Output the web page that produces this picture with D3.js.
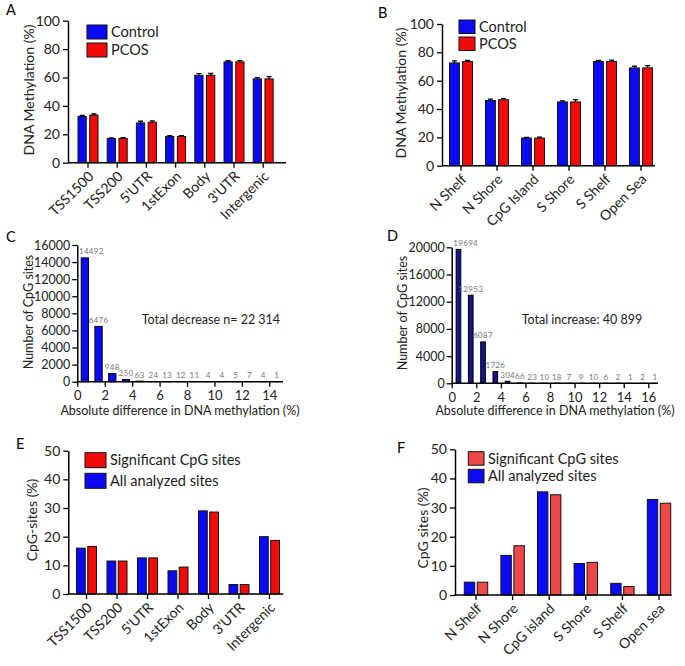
<!DOCTYPE html>
<html><head><meta charset="utf-8">
<script src="https://cdn.jsdelivr.net/npm/d3@7"></script>
<style>
body{margin:0;background:#fff;}
svg{display:block;font-family:Lato,"Open Sans",sans-serif;}
</style></head>
<body>
<svg id="chart" width="685" height="666"></svg>
<script>
// ---------- DATA ----------
const regionCats = ["TSS1500","TSS200","5'UTR","1stExon","Body","3'UTR","Intergenic"];
const regionControl = [32.5, 17, 28, 18.5, 61.5, 71, 59];
const regionPCOS = [33.5, 17, 28.5, 18.5, 61.5, 71, 59];
const regionControlErr = [0.8, 0.5, 1.2, 0.6, 1.2, 0.8, 0.9];
const regionPCOSErr = [0.8, 0.6, 0.9, 0.6, 1.3, 0.9, 1.6];

const islandCats = ["N Shelf","N Shore","CpG Island","S Shore","S Shelf","Open Sea"];
const islandControl = [72.5, 46, 19.5, 45, 73.5, 69];
const islandPCOS = [73.5, 46.5, 19.5, 45, 73.5, 69];
const islandControlErr = [1.5, 1.0, 0.5, 0.8, 0.8, 1.2];
const islandPCOSErr = [0.8, 0.8, 0.6, 1.6, 1.0, 1.6];

const decreaseCounts = [14492, 6476, 948, 250, 63, 24, 13, 12, 11, 4, 4, 5, 7, 4, 1];
const increaseCounts = [19694, 12953, 6087, 1726, 304, 66, 23, 10, 18, 7, 9, 10, 6, 2, 1, 2, 1];
const decreaseTicks = [0,2,4,6,8,10,12,14];
const increaseTicks = [0,2,4,6,8,10,12,14,16];

const regionAll = [16, 11.5, 12.6, 8.1, 29, 3.3, 20];
const regionSig = [16.6, 11.5, 12.6, 9.4, 28.6, 3.3, 18.7];

const islandCatsF = ["N Shelf","N Shore","CpG island","S Shore","S Shelf","Open sea"];
const islandAll = [4.4, 13.6, 35.4, 10.8, 4.0, 32.8];
const islandSig = [4.4, 16.9, 34.4, 11.2, 2.9, 31.5];

// ---------- HELPERS ----------
const svg = d3.select("#chart");
const BLUE = "#0a0af5", RED = "#f50a0a", RED2 = "#f04848", NAVY = "#14148c";

function panelLetter(t, x, y){
  svg.append("text").attr("x",x).attr("y",y).attr("font-size",14.5).text(t);
}

function styleAxis(g){
  g.selectAll("path.domain").attr("stroke","#000").attr("stroke-width",1.5);
  g.selectAll(".tick line").attr("stroke","#000").attr("stroke-width",1.3);
  g.selectAll(".tick text").attr("fill","#222").attr("font-family","Lato, sans-serif");
}

function groupedPanel(o){
  const g = svg.append("g");
  const y = d3.scaleLinear().domain([0,o.ymax]).range([o.y0,o.y1]);
  const x0 = d3.scaleBand().domain(o.cats).range([o.xr0,o.xr1]).padding(0);
  const bw = x0.bandwidth();
  const x1 = d3.scaleBand().domain(d3.range(o.series.length)).range([0,o.groupW]).paddingInner(o.gap);
  o.series.forEach((s,j)=>{
    g.selectAll(null).data(s.values).enter().append("rect")
      .attr("x",(d,i)=>x0(o.cats[i]) + (bw-o.groupW)/2 + x1(j))
      .attr("width",x1.bandwidth())
      .attr("y",d=>y(d)).attr("height",d=>y(0)-y(d))
      .attr("fill",s.color).attr("stroke","#111").attr("stroke-width",1);
    if (s.err){
      g.selectAll(null).data(s.values).enter().append("path")
        .attr("d",(d,i)=>{
          const cx = x0(o.cats[i]) + (bw-o.groupW)/2 + x1(j) + x1.bandwidth()/2;
          const yt = y(d+s.err[i]);
          return `M${cx},${y(d)}V${yt}M${cx-2.5},${yt}H${cx+2.5}`;
        })
        .attr("stroke","#000").attr("stroke-width",1.3).attr("fill","none");
    }
  });
  const ya = g.append("g").attr("transform",`translate(${o.ax},0)`)
    .call(d3.axisLeft(y).tickValues(d3.range(0,o.ymax+1,o.ystep)).tickSize(5).tickSizeOuter(0).tickPadding(3));
  ya.selectAll("text").attr("font-size",o.tickFont||14);
  styleAxis(ya);
  const xa = g.append("g").attr("transform",`translate(0,${o.y0})`)
    .call(d3.axisBottom(x0).tickSize(5).tickSizeOuter(0));
  xa.select("path.domain").remove();
  xa.append("line").attr("x1",o.ax).attr("x2",o.axEnd).attr("y1",0).attr("y2",0)
    .attr("stroke","#000").attr("stroke-width",1.5);
  styleAxis(xa);
  xa.selectAll(".tick text").attr("font-size",o.xFont||14)
    .attr("text-anchor","end").attr("x",0).attr("y",0).attr("dy","0.35em")
    .attr("transform","translate(3,11) rotate(-45)");
  g.append("text").attr("transform",`translate(${o.tx},${o.ty}) rotate(-90)`)
    .attr("text-anchor","middle").attr("dy","0.35em").attr("font-size",o.titleFont||14)
    .attr("fill","#222").text(o.title);
  o.legend.forEach((l,k)=>{
    g.append("rect").attr("x",o.lx).attr("y",o.ly + k*o.lstep).attr("width",o.lw).attr("height",o.lh)
      .attr("fill",l.color).attr("stroke","#111").attr("stroke-width",1);
    g.append("text").attr("x",o.lx+o.lw+4).attr("y",o.ly + k*o.lstep + o.lh/2).attr("dy","0.35em")
      .attr("font-size",o.legFont||14.5).attr("fill","#222").text(l.label);
  });
}

function histPanel(o){
  const g = svg.append("g");
  const y = d3.scaleLinear().domain([0,o.ymax]).range([o.y0,o.y1]);
  const x = d3.scaleLinear().domain([0,o.xmax]).range([o.ax,o.xEnd]);
  const data = o.values.map((v,i)=>({v,i}));
  g.selectAll(null).data(data).enter().append("rect")
    .attr("x",d=>x(d.i+0.55-o.bw/2)).attr("width",x(o.bw)-x(0))
    .attr("y",d=>y(d.v)).attr("height",d=>y(0)-y(d.v))
    .attr("fill",o.color).attr("stroke","#000").attr("stroke-width",1);
  g.selectAll(null).data(data).enter().append("text")
    .attr("x",d=>{
      const w = String(d.v).length*4.4;
      return Math.max(x(d.i+0.55), o.ax + w/2 + 3);
    })
    .attr("y",d=>y(d.v)-3.5).attr("text-anchor","middle")
    .attr("font-size",8).attr("fill","#777").attr("letter-spacing",0.3).text(d=>d.v);
  const ya = g.append("g").attr("transform",`translate(${o.ax},0)`)
    .call(d3.axisLeft(y).tickValues(d3.range(0,o.ymax+1,o.ystep)).tickFormat(d3.format("d")).tickSize(5).tickSizeOuter(0).tickPadding(2));
  ya.selectAll("text").attr("font-size",12.5);
  styleAxis(ya);
  const xa = g.append("g").attr("transform",`translate(0,${o.y0})`)
    .call(d3.axisBottom(x).tickValues(o.xticks).tickSize(5).tickSizeOuter(0).tickPadding(4));
  xa.select("path.domain").remove();
  xa.append("line").attr("x1",o.ax).attr("x2",o.axEnd).attr("stroke","#000").attr("stroke-width",1.5);
  xa.selectAll("text").attr("font-size",13);
  styleAxis(xa);
  g.append("text").attr("transform",`translate(${o.tx},${o.ty}) rotate(-90)`)
    .attr("text-anchor","middle").attr("dy","0.35em").attr("font-size",12.5).attr("fill","#222").text(o.title);
  g.append("text").attr("x",o.xtx).attr("y",o.xty).attr("text-anchor","middle")
    .attr("font-size",12.5).attr("fill","#222").text("Absolute difference in DNA methylation (%)");
  g.append("text").attr("x",o.notex).attr("y",o.notey).attr("font-size",12.5).attr("fill","#222").text(o.note);
}

// ---------- PANEL A ----------
groupedPanel({
  cats: regionCats, ymax:100, ystep:20, y0:162.7, y1:20.7,
  xr0:73.4, xr1:277.8, groupW:20, gap:0.3, ax:68, axEnd:286,
  series:[{values:regionControl,err:regionControlErr,color:BLUE},{values:regionPCOS,err:regionPCOSErr,color:RED}],
  title:"DNA Methylation (%)", tx:29, ty:90,
  legend:[{label:"Control",color:BLUE},{label:"PCOS",color:RED}],
  lx:87, ly:25, lw:20, lh:14, lstep:18
});
panelLetter("A",6,15);

// ---------- PANEL B ----------
groupedPanel({
  cats: islandCats, ymax:100, ystep:20, y0:165.7, y1:24,
  xr0:443, xr1:659, groupW:23, gap:0.25, ax:442, axEnd:655,
  series:[{values:islandControl,err:islandControlErr,color:BLUE},{values:islandPCOS,err:islandPCOSErr,color:RED}],
  title:"DNA Methylation (%)", tx:401, ty:93,
  legend:[{label:"Control",color:BLUE},{label:"PCOS",color:RED}],
  lx:459, ly:20, lw:16, lh:13.5, lstep:17
});
panelLetter("B",378,18);

// ---------- PANEL C ----------
histPanel({
  values: decreaseCounts, ymax:16000, ystep:2000, y0:381.7, y1:245,
  xmax:15, ax:77.3, xEnd:283, axEnd:283, xticks:decreaseTicks, bw:0.53,
  color:BLUE, title:"Number of CpG sites", tx:29, ty:312,
  xtx:180, xty:415, note:"Total decrease n= 22 314", notex:141.7, notey:324
});
panelLetter("C",6,242);

// ---------- PANEL D ----------
histPanel({
  values: increaseCounts, ymax:20000, ystep:4000, y0:383.3, y1:247.3,
  xmax:17, ax:451.7, xEnd:660.6, axEnd:658, xticks:increaseTicks, bw:0.38,
  color:NAVY, title:"Number of CpG sites", tx:403, ty:313,
  xtx:555, xty:415, note:"Total increase: 40 899", notex:521.7, notey:324
});
panelLetter("D",387,241);

// ---------- PANEL E ----------
groupedPanel({
  cats: regionCats, ymax:50, ystep:10, y0:594, y1:450.7,
  xr0:71.25, xr1:284.75, groupW:20, gap:0.22, ax:68.3, axEnd:283.3,
  series:[{values:regionAll,color:BLUE},{values:regionSig,color:RED}],
  title:"CpG-sites (%)", tx:31.7, ty:520,
  legend:[{label:"Significant CpG sites",color:RED},{label:"All analyzed sites",color:BLUE}],
  lx:85, ly:452.7, lw:21, lh:15, lstep:20.6
});
panelLetter("E",16,449);

// ---------- PANEL F ----------
groupedPanel({
  cats: islandCatsF, ymax:50, ystep:10, y0:595, y1:449.3,
  xr0:457.7, xr1:677.3, groupW:23.4, gap:0.2, ax:455, axEnd:671.7,
  series:[{values:islandAll,color:BLUE},{values:islandSig,color:RED2}],
  title:"CpG sites (%)", tx:423.3, ty:528,
  legend:[{label:"Significant CpG sites",color:RED2},{label:"All analyzed sites",color:BLUE}],
  lx:468.3, ly:451.7, lw:15.7, lh:13.5, lstep:17.6
});
panelLetter("F",397,453);
</script>
</body></html>
